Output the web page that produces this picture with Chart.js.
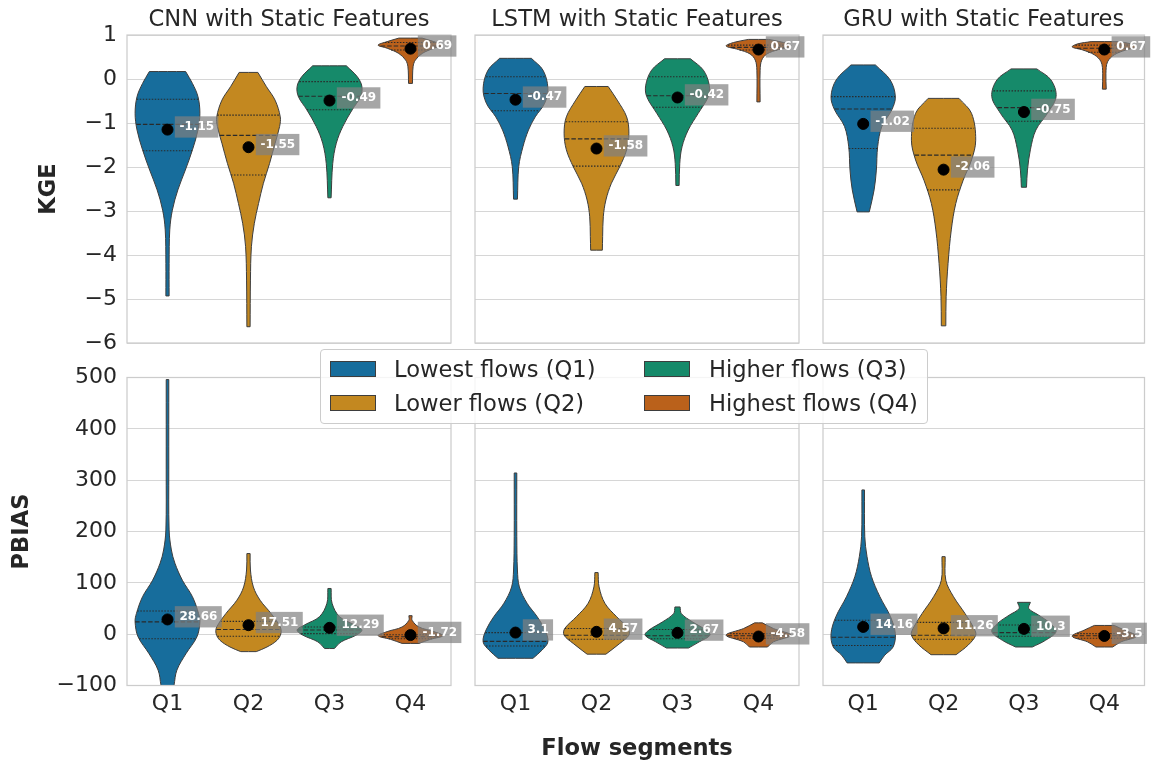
<!DOCTYPE html>
<html>
<head>
<meta charset="utf-8">
<script src="https://cdn.jsdelivr.net/npm/chart.js@4.4.1/dist/chart.umd.min.js"></script>
<style>
  body { margin: 0; background: #fff; width: 1151px; height: 764px; position: relative; overflow: hidden; font-family: 'DejaVu Sans', sans-serif; }
  canvas { position: absolute; }
  #legend { position: absolute; left: 320px; top: 349px; width: 606px; height: 73px; background: rgba(255,255,255,0.8);
            border: 1px solid #cccccc; border-radius: 4px; z-index: 5; }
  .patch { position: absolute; width: 44px; height: 14px; border: 1px solid #3d3d3d; }
  .ltxt { position: absolute; font-size: 22.6px; line-height: 26px; color: #262626; white-space: nowrap; }
</style>
</head>
<body>
<div id="legend"></div>
<script>
// categories / labels
const categories = ['Q1', 'Q2', 'Q3', 'Q4'];
const flowLabels = ['Lowest flows (Q1)', 'Lower flows (Q2)', 'Higher flows (Q3)', 'Highest flows (Q4)'];
const models = ['CNN with Static Features', 'LSTM with Static Features', 'GRU with Static Features'];

// mean values (black dots + labels)
const cnnKgeMean = [-1.15, -1.55, -0.49, 0.69];
const lstmKgeMean = [-0.47, -1.58, -0.42, 0.67];
const gruKgeMean = [-1.02, -2.06, -0.75, 0.67];
const cnnPbiasMean = [28.66, 17.51, 12.29, -1.72];
const lstmPbiasMean = [3.1, 4.57, 2.67, -4.58];
const gruPbiasMean = [14.16, 11.26, 10.3, -3.5];

// quartiles [q1, median, q3]
const cnnKgeQuart = [[-1.63, -1.03, -0.46], [-2.18, -1.28, -0.82], [-0.70, -0.39, -0.06], [0.66, 0.75, 0.83]];
const lstmKgeQuart = [[-0.72, -0.33, 0.05], [-1.98, -1.36, -0.97], [-0.64, -0.38, 0.05], [0.66, 0.72, 0.77]];
const gruKgeQuart = [[-1.58, -0.68, -0.40], [-2.52, -1.73, -1.12], [-0.96, -0.65, -0.27], [0.61, 0.70, 0.77]];
const cnnPbiasQuart = [[-9, 24, 45], [-4, 9, 25], [1, 8, 14], [-9, -5, -1]];
const lstmPbiasQuart = [[-23, -14, 3], [-10, -2, 11], [-9, -3, 9], [-8, -3, 1]];
const gruPbiasQuart = [[-22, -6, 27], [-10, -2, 23], [-4, 3, 18], [-8, -3, 1]];

// violin density profiles, top to bottom: [value, relative width]
const cnnKgeShape = [
  [[0.17, 0.56], [-0.10, 0.77], [-0.40, 0.94], [-0.78, 1.0], [-1.16, 0.94], [-1.61, 0.77], [-2.07, 0.55], [-2.52, 0.32], [-2.98, 0.15], [-3.43, 0.07], [-4.19, 0.05], [-4.93, 0.05]],
  [[0.15, 0.29], [-0.17, 0.55], [-0.48, 0.82], [-0.86, 0.98], [-1.08, 0.96], [-1.46, 0.82], [-1.92, 0.65], [-2.37, 0.46], [-2.83, 0.31], [-3.28, 0.18], [-3.81, 0.09], [-4.57, 0.06], [-5.63, 0.05]],
  [[0.30, 0.52], [0.05, 0.86], [-0.17, 1.0], [-0.40, 0.96], [-0.70, 0.70], [-1.08, 0.41], [-1.46, 0.21], [-1.92, 0.10], [-2.70, 0.05]],
  [[0.93, 0.36], [0.85, 0.72], [0.77, 1.0], [0.70, 0.72], [0.58, 0.36], [0.43, 0.15], [0.28, 0.08], [-0.10, 0.06]]
];
const lstmKgeShape = [
  [[0.47, 0.49], [0.20, 0.85], [-0.21, 1.0], [-0.55, 0.90], [-0.86, 0.61], [-1.16, 0.40], [-1.54, 0.23], [-1.99, 0.10], [-2.73, 0.06]],
  [[-0.17, 0.36], [-0.48, 0.64], [-0.86, 0.93], [-1.23, 1.0], [-1.61, 0.93], [-1.99, 0.72], [-2.37, 0.46], [-2.75, 0.29], [-3.13, 0.21], [-3.58, 0.19], [-3.89, 0.18]],
  [[0.46, 0.40], [0.20, 0.80], [-0.14, 0.98], [-0.40, 0.95], [-0.78, 0.64], [-1.16, 0.33], [-1.54, 0.14], [-1.92, 0.07], [-2.42, 0.05]],
  [[0.90, 0.31], [0.83, 0.77], [0.75, 1.0], [0.67, 0.62], [0.57, 0.26], [0.43, 0.10], [0.20, 0.05], [-0.52, 0.05]]
];
const gruKgeShape = [
  [[0.32, 0.38], [-0.02, 0.84], [-0.40, 1.0], [-0.70, 0.89], [-1.08, 0.58], [-1.54, 0.45], [-2.07, 0.41], [-2.52, 0.34], [-3.02, 0.19]],
  [[-0.44, 0.48], [-0.78, 0.87], [-1.39, 1.0], [-1.84, 0.87], [-2.30, 0.61], [-2.83, 0.38], [-3.43, 0.24], [-4.19, 0.14], [-4.95, 0.08], [-5.61, 0.07]],
  [[0.23, 0.40], [-0.02, 0.84], [-0.40, 1.0], [-0.78, 0.73], [-1.16, 0.37], [-1.61, 0.20], [-2.07, 0.11], [-2.46, 0.08]],
  [[0.85, 0.41], [0.80, 0.82], [0.73, 1.0], [0.66, 0.67], [0.55, 0.31], [0.39, 0.10], [0.13, 0.05], [-0.23, 0.06]]
];
const cnnPbiasShape = [
  [[496, 0.04], [320, 0.04], [203, 0.05], [164, 0.12], [138, 0.23], [105, 0.46], [73, 0.77], [40, 0.96], [24, 1.0], [-5, 0.91], [-38, 0.57], [-70, 0.29], [-100, 0.20]],
  [[157, 0.05], [125, 0.06], [92, 0.15], [66, 0.36], [40, 0.70], [14, 0.98], [1, 1.0], [-12, 0.88], [-25, 0.57], [-34, 0.24]],
  [[89, 0.05], [60, 0.08], [34, 0.31], [18, 0.77], [8, 1.0], [-2, 0.82], [-15, 0.36], [-28, 0.15]],
  [[36, 0.05], [27, 0.05], [14, 0.26], [5, 0.72], [-3, 1.0], [-10, 0.62], [-18, 0.26]]
];
const lstmPbiasShape = [
  [[314, 0.04], [190, 0.04], [125, 0.06], [92, 0.12], [60, 0.36], [34, 0.67], [8, 0.91], [-15, 1.0], [-31, 0.82], [-47, 0.54]],
  [[120, 0.05], [92, 0.08], [60, 0.26], [34, 0.62], [11, 0.98], [-2, 1.0], [-18, 0.72], [-39, 0.29]],
  [[53, 0.08], [40, 0.12], [24, 0.46], [8, 0.88], [-2, 1.0], [-15, 0.67], [-27, 0.34]],
  [[22, 0.12], [11, 0.46], [-2, 1.0], [-15, 0.46], [-25, 0.28]]
];
const gruPbiasShape = [
  [[281, 0.04], [190, 0.05], [151, 0.12], [112, 0.26], [73, 0.52], [34, 0.85], [1, 1.0], [-25, 0.93], [-41, 0.67], [-56, 0.50]],
  [[151, 0.05], [105, 0.07], [73, 0.31], [40, 0.67], [11, 0.95], [-2, 1.0], [-21, 0.77], [-40, 0.39]],
  [[62, 0.20], [50, 0.15], [37, 0.46], [21, 0.82], [5, 1.0], [-12, 0.67], [-25, 0.26]],
  [[17, 0.31], [8, 0.62], [-4, 1.0], [-15, 0.52], [-25, 0.26]]
];

const kgeTicks = { min: -6, max: 1, step: 1 };
const pbiasTicks = { min: -100, max: 500, step: 100 };

// styling
const colors = ['#176d9c', '#c38820', '#168a6a', '#ba611b'];
const edge = '#3d3d3d';
const innerLine = '#2a2a2a';
const textColor = '#262626';
const HALF = 0.4;
const FONT = "'DejaVu Sans', sans-serif";
const TICK_SIZE = 22;
const LABEL_SIZE = 22.6;
Chart.defaults.font.family = FONT;

// legend (html)
const legendEl = document.getElementById('legend');
flowLabels.forEach(function (lab, i) {
  const col = Math.floor(i / 2), row = i % 2;
  const p = document.createElement('div');
  p.className = 'patch';
  p.style.left = (9 + col * 314) + 'px';
  p.style.top = (11 + row * 34) + 'px';
  p.style.background = colors[i];
  legendEl.appendChild(p);
  const t = document.createElement('div');
  t.className = 'ltxt';
  t.textContent = lab;
  t.style.left = (73 + col * 315) + 'px';
  t.style.top = (6 + row * 34) + 'px';
  legendEl.appendChild(t);
});

function outline(prof, i) {
  const right = prof.slice().reverse().map(function (p) { return { x: i + p[1] * HALF, y: p[0] }; });
  const left = prof.map(function (p) { return { x: i - p[1] * HALF, y: p[0] }; });
  const pts = [];
  right.forEach(function (p, k) { pts.push(p); if (k === 0 || k === right.length - 1) pts.push({ x: p.x, y: p.y }); });
  left.forEach(function (p, k) { pts.push(p); if (k === 0 || k === left.length - 1) pts.push({ x: p.x, y: p.y }); });
  pts.push({ x: right[0].x, y: right[0].y });
  return pts;
}

function widthAt(prof, v) {
  for (let k = 0; k < prof.length - 1; k++) {
    const a = prof[k], b = prof[k + 1];
    if (v <= a[0] && v >= b[0]) {
      const t = (a[0] - v) / (a[0] - b[0]);
      return (a[1] + t * (b[1] - a[1])) * HALF;
    }
  }
  return 0;
}

// frame round each panel
Chart.register({
  id: 'frame',
  afterDatasetsDraw(chart) {
    const a = chart.chartArea, ctx = chart.ctx;
    ctx.save();
    ctx.strokeStyle = '#cccccc';
    ctx.lineWidth = 1.25;
    ctx.strokeRect(a.left, a.top, a.right - a.left, a.bottom - a.top);
    ctx.restore();
  }
});

// grey boxes with mean values
Chart.register({
  id: 'meanLabels',
  afterDatasetsDraw(chart, args, opts) {
    if (!opts.values) return;
    const ctx = chart.ctx, x = chart.scales.x, y = chart.scales.y;
    ctx.save();
    ctx.font = "bold 12px " + FONT;
    opts.values.forEach(function (m, i) {
      const px = x.getPixelForValue(i), py = y.getPixelForValue(m);
      const txt = String(m);
      const w = ctx.measureText(txt).width;
      ctx.fillStyle = 'rgba(128,128,128,0.7)';
      ctx.fillRect(px + 7.3, py - 13.3, w + 9, 21.3);
      ctx.fillStyle = '#ffffff';
      ctx.textBaseline = 'middle';
      ctx.fillText(txt, px + 12, py - 2.5);
    });
    ctx.restore();
  }
});

// canvases overlap a little so tick-label padding never squeezes the plot areas
const colCanvas = [[0, 463], [463, 811], [811, 1151]];
const rowCanvas = [[0, 370], [350, 764]];
const yAxisW = [127, 12, 12];
const rightPad = [12, 12, 4];
const xAxisH = [27, 78.5];
const topPad = [0, 27.5];

function panel(row, col, shapes, quarts, means, tk, yTitle, titlePad) {
  const cv = document.createElement('canvas');
  const w = colCanvas[col][1] - colCanvas[col][0];
  const h = rowCanvas[row][1] - rowCanvas[row][0];
  cv.width = w; cv.height = h;
  cv.style.left = colCanvas[col][0] + 'px';
  cv.style.top = rowCanvas[row][0] + 'px';
  document.body.appendChild(cv);

  const datasets = [];
  shapes.forEach(function (prof, i) {
    datasets.push({
      data: outline(prof, i), fill: 'shape', backgroundColor: colors[i], borderColor: edge,
      borderWidth: 1, pointRadius: 0, tension: 0.35, order: 3
    });
    quarts[i].forEach(function (q, k) {
      const hw = widthAt(prof, q);
      datasets.push({
        data: [{ x: i - hw, y: q }, { x: i + hw, y: q }], borderColor: innerLine, borderWidth: 1.1,
        borderDash: k === 1 ? [4.5, 2] : [1.5, 1.5], pointRadius: 0, fill: false, order: 2
      });
    });
  });
  datasets.push({
    data: means.map(function (m, i) { return { x: i, y: m }; }), showLine: false,
    pointRadius: 5.5, pointBackgroundColor: '#000', pointBorderColor: '#000', order: 1
  });

  return new Chart(cv, {
    type: 'line',
    data: { datasets: datasets },
    options: {
      responsive: false,
      animation: false,
      events: [],
      layout: { padding: { top: topPad[row], bottom: 0, left: 0, right: rightPad[col] } },
      plugins: {
        legend: { display: false },
        tooltip: { enabled: false },
        title: {
          display: row === 0, text: models[col], color: textColor, fullSize: false,
          font: { size: LABEL_SIZE, weight: 'normal' }, padding: { top: 6.1, bottom: 1.8 }
        },
        meanLabels: { values: means }
      },
      scales: {
        x: {
          type: 'linear', min: -0.5, max: 3.5, display: row === 1,
          afterBuildTicks(s) { s.ticks = categories.map(function (c, i) { return { value: i }; }); },
          afterFit(s) { s.height = xAxisH[row]; },
          ticks: {
            callback: function (v) { return categories[v]; }, color: textColor,
            font: { size: TICK_SIZE }, padding: 5.5, maxRotation: 0, autoSkip: false
          },
          grid: { display: false, drawTicks: false },
          border: { display: false },
          title: {
            display: row === 1 && col === 1, text: 'Flow segments', color: textColor,
            font: { size: LABEL_SIZE, weight: 'bold' }, padding: { top: 0, bottom: 1.4 }
          }
        },
        y: {
          min: tk.min, max: tk.max,
          afterFit(s) { s.width = yAxisW[col]; },
          ticks: {
            display: col === 0, stepSize: tk.step, color: textColor, font: { size: TICK_SIZE }, padding: 10,
            callback: function (v) { return String(v).replace('-', '\u2212'); }
          },
          grid: { color: '#d6d6d6', lineWidth: 1, drawTicks: false },
          border: { display: false },
          title: {
            display: col === 0, text: yTitle, color: textColor,
            font: { size: LABEL_SIZE, weight: 'bold' }, padding: { top: titlePad, bottom: 0 }
          }
        }
      }
    }
  });
}

panel(0, 0, cnnKgeShape, cnnKgeQuart, cnnKgeMean, kgeTicks, 'KGE', 35.1);
panel(0, 1, lstmKgeShape, lstmKgeQuart, lstmKgeMean, kgeTicks, 'KGE', 35.1);
panel(0, 2, gruKgeShape, gruKgeQuart, gruKgeMean, kgeTicks, 'KGE', 35.1);
panel(1, 0, cnnPbiasShape, cnnPbiasQuart, cnnPbiasMean, pbiasTicks, 'PBIAS', 8.1);
panel(1, 1, lstmPbiasShape, lstmPbiasQuart, lstmPbiasMean, pbiasTicks, 'PBIAS', 8.1);
panel(1, 2, gruPbiasShape, gruPbiasQuart, gruPbiasMean, pbiasTicks, 'PBIAS', 8.1);
</script>
</body>
</html>
